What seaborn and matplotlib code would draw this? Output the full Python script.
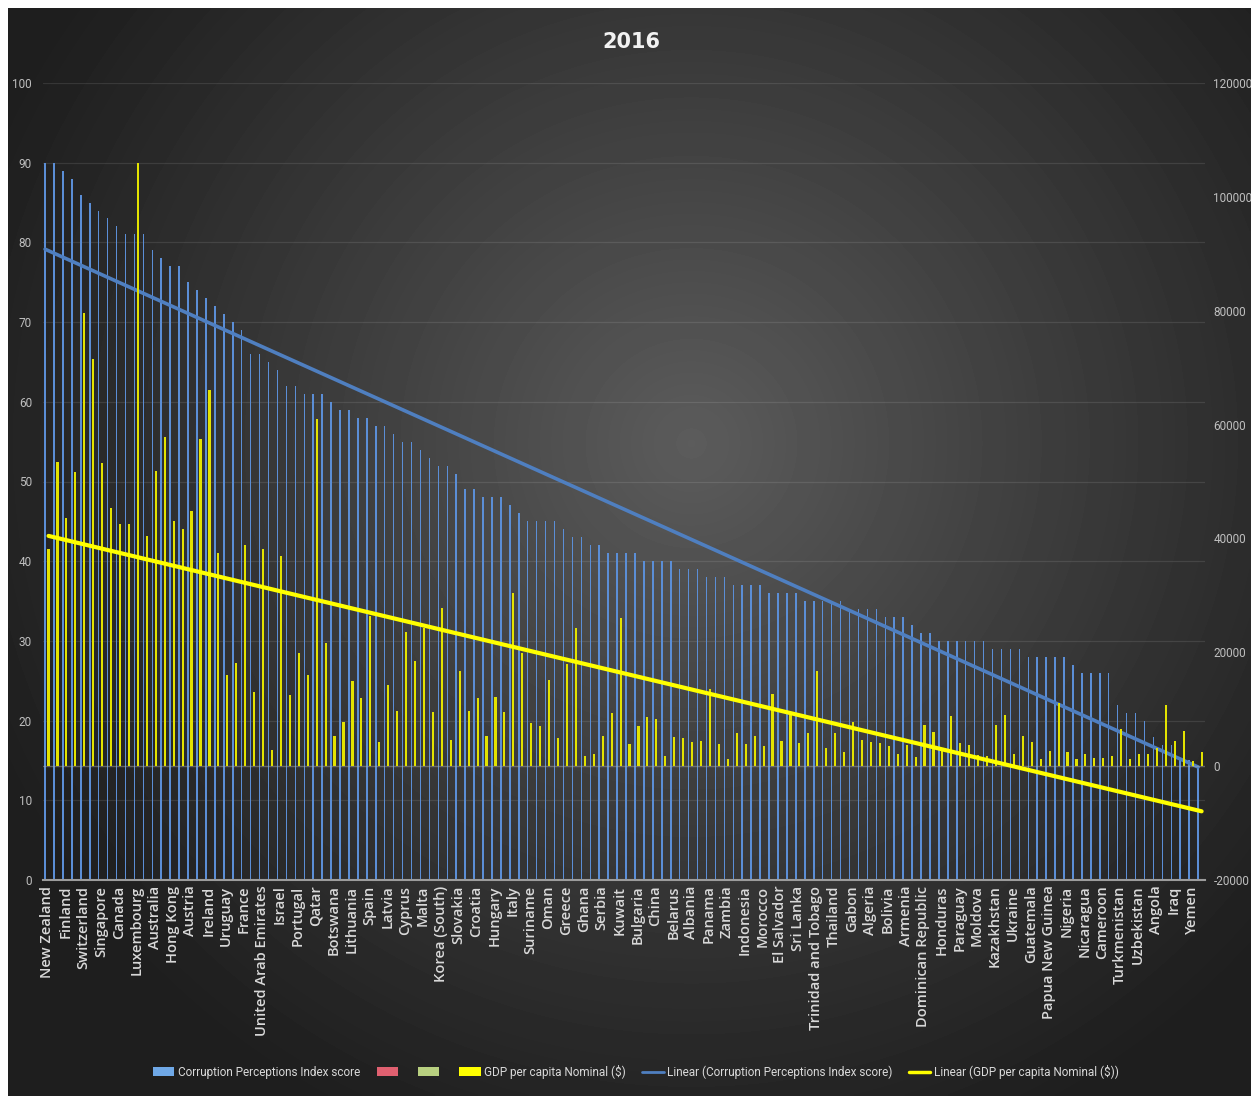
"""
CPI 2016 vs GDP per capita - dark Excel style chart remake
"""

import numpy as np
import pandas as pd
import seaborn as sns
import matplotlib.pyplot as plt
from matplotlib import font_manager
from matplotlib.patches import Patch
from matplotlib.lines import Line2D

# data
countries = [
    'New Zealand', 'Denmark', 'Finland', 'Sweden', 'Switzerland', 'Norway', 'Singapore', 'Netherlands',
    'Canada', 'Germany', 'Luxembourg', 'United Kingdom', 'Australia', 'Iceland', 'Hong Kong', 'Belgium',
    'Austria', 'United States', 'Ireland', 'Japan', 'Uruguay', 'Estonia', 'France', 'Chile',
    'United Arab Emirates', 'Bhutan', 'Israel', 'Poland', 'Portugal', 'Barbados', 'Qatar', 'Slovenia',
    'Botswana', 'Saint Lucia', 'Lithuania', 'Costa Rica', 'Spain', 'Georgia', 'Latvia', 'Grenada',
    'Cyprus', 'Czech Republic', 'Malta', 'Mauritius', 'Korea (South)', 'Namibia', 'Slovakia', 'Malaysia',
    'Croatia', 'Jordan', 'Hungary', 'Romania', 'Italy', 'Saudi Arabia', 'Suriname', 'Montenegro',
    'Oman', 'South Africa', 'Greece', 'Bahrain', 'Ghana', 'Solomon Islands', 'Serbia', 'Turkey',
    'Kuwait', 'Tunisia', 'Bulgaria', 'Brazil', 'China', 'India', 'Belarus', 'Bosnia and Herzegovina',
    'Albania', 'Jamaica', 'Panama', 'Mongolia', 'Zambia', 'Colombia', 'Indonesia', 'Macedonia',
    'Morocco', 'Argentina', 'El Salvador', 'Maldives', 'Sri Lanka', 'Peru', 'Trinidad and Tobago', 'Philippines',
    'Thailand', 'Timor-Leste', 'Gabon', 'Guyana', 'Algeria', 'Egypt', 'Bolivia', 'Vietnam',
    'Armenia', 'Pakistan', 'Dominican Republic', 'Ecuador', 'Honduras', 'Mexico', 'Paraguay', 'Laos',
    'Moldova', 'Nepal', 'Kazakhstan', 'Russia', 'Ukraine', 'Iran', 'Guatemala', 'Kyrgyzstan',
    'Papua New Guinea', 'Lebanon', 'Nigeria', 'Bangladesh', 'Nicaragua', 'Kenya', 'Cameroon', 'Tajikistan',
    'Turkmenistan', 'Zimbabwe', 'Uzbekistan', 'Haiti', 'Angola', 'Venezuela', 'Iraq', 'Libya',
    'Yemen', 'Sudan',
]

cpi_score = [
    90, 90, 89, 88, 86, 85, 84, 83, 82, 81, 81, 81, 79, 78, 77, 77,
    75, 74, 73, 72, 71, 70, 69, 66, 66, 65, 64, 62, 62, 61, 61, 61,
    60, 59, 59, 58, 58, 57, 57, 56, 55, 55, 54, 53, 52, 52, 51, 49,
    49, 48, 48, 48, 47, 46, 45, 45, 45, 45, 44, 43, 43, 42, 42, 41,
    41, 41, 41, 40, 40, 40, 40, 39, 39, 39, 38, 38, 38, 37, 37, 37,
    37, 36, 36, 36, 36, 35, 35, 35, 35, 35, 34, 34, 34, 34, 33, 33,
    33, 32, 31, 31, 30, 30, 30, 30, 30, 30, 29, 29, 29, 29, 28, 28,
    28, 28, 28, 27, 26, 26, 26, 26, 22, 21, 21, 20, 18, 17, 17, 15,
    15, 14,
]

gdp_per_capita = [
    38200, 53400, 43600, 51700, 79600, 71500, 53300, 45400, 42500, 42500, 105900, 40400, 51800, 57900, 43000, 41600,
    44800, 57500, 66000, 37400, 16000, 18100, 38800, 13000, 38200, 2900, 36900, 12500, 19800, 16000, 60900, 21600,
    5300, 7700, 15000, 11900, 26400, 4200, 14200, 9700, 23600, 18500, 24300, 9500, 27800, 4600, 16700, 9700,
    11900, 5300, 12200, 9500, 30500, 19900, 7500, 7000, 15100, 5000, 17900, 24200, 1700, 2100, 5300, 9400,
    26100, 3900, 7100, 8700, 8200, 1800, 5200, 5000, 4300, 4400, 13500, 3900, 1300, 5800, 3900, 5300,
    3500, 12600, 4400, 9000, 4000, 5900, 16700, 3100, 5800, 2400, 7800, 4600, 4300, 4000, 3500, 2200,
    3700, 1600, 7200, 6000, 2700, 8800, 4100, 3800, 1900, 1750, 7200, 8900, 2100, 5300, 4200, 1300,
    2600, 11100, 2500, 1200, 2200, 1500, 1500, 1750, 6500, 1200, 2200, 2100, 3200, 10800, 4400, 6100,
    900, 2500,
]

left_ticks = list(range(0, 101, 10))
right_ticks = list(range(-20000, 120001, 20000))

df = pd.DataFrame({'country': countries, 'cpi': cpi_score, 'gdp': gdp_per_capita})
df['pos'] = np.arange(len(df))
df['cpi_pos'] = df['pos'] - 0.27   # primary cluster sits left
df['gdp_pos'] = df['pos'] + 0.12   # secondary-axis series

sns.set_theme(style='dark')
names = {f.name for f in font_manager.fontManager.ttflist}
narrow = 'Liberation Sans Narrow' if 'Liberation Sans Narrow' in names else 'Roboto'
plt.rcParams['font.family'] = ['DejaVu Sans']

W, H = 1251, 1096
fig = plt.figure(figsize=(W / 100, H / 100), dpi=100, facecolor='white')

# radial dark-grey background
bg = fig.add_axes([8 / W, 0, 1 - 8 / W, 1 - 8 / H])
gx, gy = np.meshgrid(np.linspace(0, 1, 400), np.linspace(0, 1, 360))
d = np.sqrt(((gx - 0.55) / 0.62) ** 2 + ((gy - 0.40) / 0.70) ** 2)
shade = 30 + 62 * np.clip(1 - d, 0, 1) ** 1.1
bg.imshow(shade, cmap='gray', vmin=0, vmax=255, aspect='auto', interpolation='bilinear')
bg.axis('off')
bg.set_zorder(-10)

ax = fig.add_axes([43 / W, 1 - 880 / H, (1205 - 43) / W, (880 - 83) / H])
ax.patch.set_alpha(0)
ax2 = ax.twinx()

sns.barplot(data=df, x='cpi_pos', y='cpi', native_scale=True, orient='x', width=0.17,
            color='#5b8ed6', saturation=1, errorbar=None, linewidth=0, ax=ax)
sns.regplot(data=df, x='cpi_pos', y='cpi', scatter=False, ci=None, ax=ax,
            color='#4f7fc0', line_kws={'lw': 2.6})

sns.barplot(data=df, x='gdp_pos', y='gdp', native_scale=True, orient='x', width=0.24,
            color='#e3e300', saturation=1, errorbar=None, linewidth=0, ax=ax2)
ax2.axhline(0, color='#b0b0b0', lw=1, alpha=0.45, zorder=0.5)
sns.regplot(data=df, x='gdp_pos', y='gdp', scatter=False, ci=None, ax=ax2,
            color='#ffff00', line_kws={'lw': 3})

ax.set_xlim(-0.5, len(df) - 0.5)
ax.set_ylim(0, 100)
ax2.set_ylim(-20000, 120000)

ax.set_xticks(df['pos'][::2])
ax.set_xticklabels(df['country'][::2], rotation=90, fontsize=10.5, color='#d9d9d9',
                   fontweight='semibold', family=['Open Sans', 'DejaVu Sans'])
ax.set_yticks(left_ticks)
ax.set_yticklabels(left_ticks, fontsize=8.5, color='#bfbfbf', family=[narrow, 'DejaVu Sans'])
ax2.set_yticks(right_ticks)
ax2.set_yticklabels(right_ticks, fontsize=8.5, color='#bfbfbf', family=[narrow, 'DejaVu Sans'])
ax.tick_params(axis='y', length=0, pad=8)
ax.tick_params(axis='x', length=0, pad=4)
ax2.tick_params(axis='y', length=0, pad=6)
ax.set_xlabel('')
ax.set_ylabel('')
ax2.set_xlabel('')
ax2.set_ylabel('')

ax.yaxis.grid(True, color='#ffffff', alpha=0.1, lw=0.9)
ax.xaxis.grid(False)
ax2.grid(False)
for a in (ax, ax2):
    for s in a.spines.values():
        s.set_visible(False)
ax.spines['bottom'].set_visible(True)
ax.spines['bottom'].set_color('#9c9c9c')
ax.spines['bottom'].set_linewidth(1.5)

fig.text(631 / W, 1 - 42 / H, '2016', ha='center', va='center', fontsize=15,
         fontweight='bold', color='#f2f2f2')

handles = [
    Patch(facecolor='#6fa8e6', edgecolor='none'),
    Patch(facecolor='#e06070', edgecolor='none'),
    Patch(facecolor='#b8d080', edgecolor='none'),
    Patch(facecolor='#ffff00', edgecolor='none'),
    Line2D([0], [0], color='#4f7fc0', lw=2),
    Line2D([0], [0], color='#ffff00', lw=2.5),
]
labels = ['Corruption Perceptions Index score', '', '', 'GDP per capita Nominal ($)',
          'Linear (Corruption Perceptions Index score)', 'Linear (GDP per capita Nominal ($))']
fig.legend(handles, labels, loc='center', bbox_to_anchor=(636 / W, 1 - 1072 / H), ncol=6,
           frameon=False, prop={'family': [narrow, 'DejaVu Sans'], 'size': 8.5},
           labelcolor='#d9d9d9', handlelength=1.8, handleheight=0.8, columnspacing=1.4,
           handletextpad=0.3)

fig.savefig('out.png', dpi=100, facecolor='white')
